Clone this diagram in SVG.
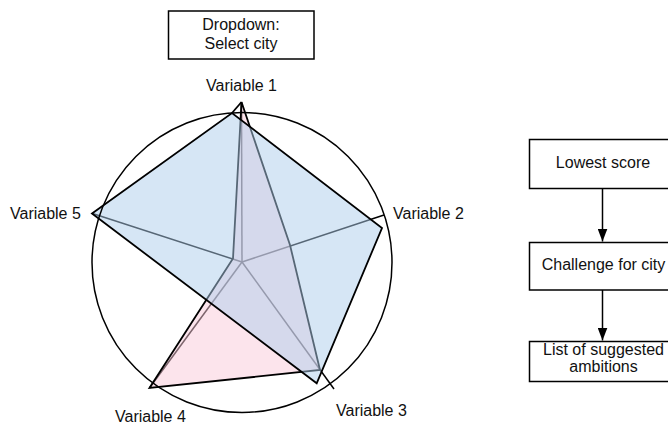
<svg xmlns="http://www.w3.org/2000/svg" width="668" height="426" viewBox="0 0 668 426">
  <defs>
    <style>
      .txt { font-family: "Liberation Sans", Arial, sans-serif; font-size: 16px; fill: #111; }
      .mid { text-anchor: middle; }
      .box { fill: #fff; stroke: #000; stroke-width: 1.5; }
      .axis { stroke: #000; stroke-width: 1.5; fill: none; }
      .ring { fill: none; stroke: #000; stroke-width: 1.5; }
      .series { stroke: #000; stroke-width: 1.8; stroke-linejoin: miter; }
      .flow { stroke: #000; stroke-width: 1.5; fill: none; }
    </style>
    <marker id="arrow" markerWidth="14" markerHeight="10" refX="13" refY="5" orient="auto" markerUnits="userSpaceOnUse" viewBox="0 0 14 10">
      <path d="M0,0 L13,5 L0,10 Z" fill="#000"/>
    </marker>
  </defs>

  <rect width="668" height="426" fill="#fff"/>

  <!-- city selector -->
  <g id="dropdown">
    <rect class="box" x="168.5" y="11" width="145.5" height="48"/>
    <text class="txt mid" x="241" y="30">Dropdown:</text>
    <text class="txt mid" x="241" y="48.5">Select city</text>
  </g>

  <!-- radar chart -->
  <g id="radar">
    <!-- axes from the centre to each variable -->
    <g id="axes">
      <line class="axis" x1="242" y1="262" x2="241.5" y2="102"/>
      <line class="axis" x1="242" y1="262" x2="384" y2="215"/>
      <line class="axis" x1="242" y1="262" x2="334" y2="389"/>
      <line class="axis" x1="242" y1="262" x2="149.5" y2="388"/>
      <line class="axis" x1="242" y1="262" x2="92.5" y2="213.5"/>
    </g>
    <!-- pink series -->
    <g id="series-pink">
      <polygon class="series" fill="#f9c9d9" fill-opacity="0.5"
        points="241.5,102 290,245 320,370 149.5,388 233,258.5"/>
    </g>
    <!-- blue series -->
    <g id="series-blue">
      <polygon class="series" fill="#adcdeb" fill-opacity="0.5"
        points="92,213.5 232,113 382,228 316.7,383.3"/>
      <line class="series" x1="232" y1="113" x2="241.5" y2="102"/>
    </g>
    <circle class="ring" cx="242" cy="262.5" r="150"/>
  </g>

  <!-- axis labels -->
  <g id="labels">
    <text class="txt mid" x="241.5" y="90.5">Variable 1</text>
    <text class="txt" x="393" y="219">Variable 2</text>
    <text class="txt" x="336" y="416">Variable 3</text>
    <text class="txt" x="115" y="422">Variable 4</text>
    <text class="txt" x="10" y="219">Variable 5</text>
  </g>

  <!-- result chain -->
  <g id="lowest-score">
    <rect class="box" x="529.5" y="139.5" width="148" height="49"/>
    <text class="txt mid" x="603" y="168">Lowest score</text>
  </g>
  <g id="challenge">
    <rect class="box" x="529.5" y="242.5" width="148" height="47.5"/>
    <text class="txt mid" x="603.5" y="269.5">Challenge for city</text>
  </g>
  <g id="ambitions">
    <rect class="box" x="529.5" y="341.5" width="148" height="40"/>
    <text class="txt mid" x="603.5" y="355">List of suggested</text>
    <text class="txt mid" x="603.5" y="372">ambitions</text>
  </g>

  <g id="connectors">
    <line class="flow" x1="602.5" y1="188.5" x2="602.5" y2="241.5" marker-end="url(#arrow)"/>
    <line class="flow" x1="602.5" y1="290" x2="602.5" y2="340.5" marker-end="url(#arrow)"/>
  </g>
</svg>
